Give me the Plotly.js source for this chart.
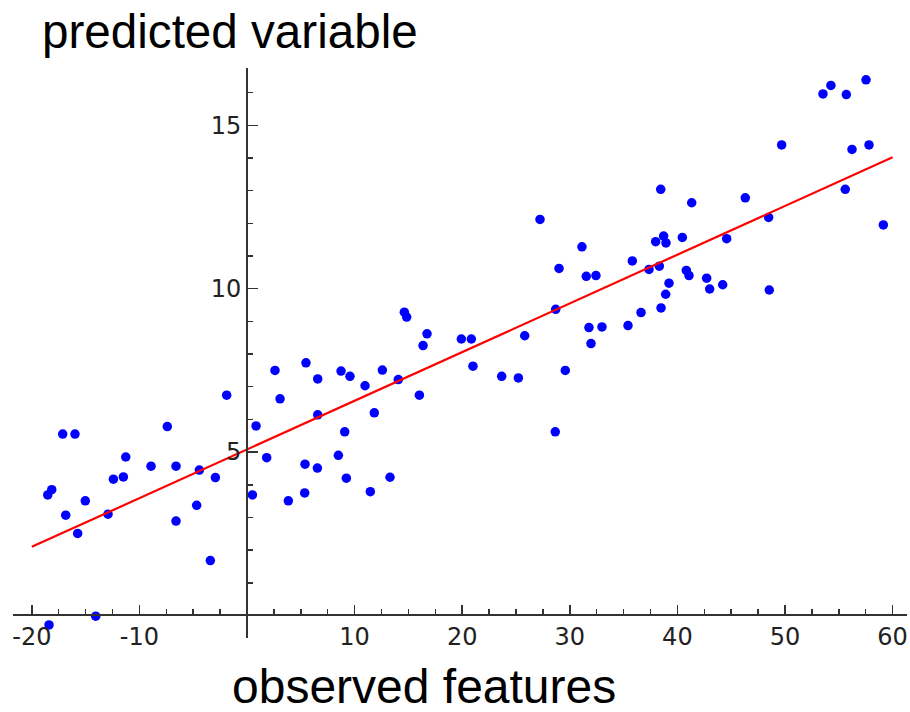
<!DOCTYPE html>
<html>
<head>
<meta charset="utf-8">
<script src="https://cdn.plot.ly/plotly-3.0.1.min.js"></script>
<style>
html,body{margin:0;padding:0;background:#fff;}
#chart{width:910px;height:712px;}
</style>
</head>
<body>
<div id="chart"></div>
<script>
// observed features (x) and predicted variable (y)
const obsX = [
  -18.40, -18.52, -18.15, -17.13, -16.85, -15.99, -15.74, -15.03, -14.06, -12.92,
  -12.42, -11.49, -11.27, -8.92, -7.41, -6.60, -6.60, -4.68, -4.43, -3.41,
  -2.94, -1.89, 0.50, 0.84, 1.83, 2.60, 3.07, 3.84, 5.36, 5.39,
  5.48, 6.54, 6.57, 6.57, 8.49, 8.74, 9.08, 9.23, 9.57, 10.97,
  11.46, 11.83, 12.58, 13.29, 14.06, 14.62, 14.84, 16.02, 16.36, 16.73,
  19.92, 20.85, 21.00, 23.67, 25.22, 25.81, 27.23, 28.65, 28.69, 29.00,
  29.58, 31.13, 31.53, 31.78, 31.97, 32.43, 32.99, 35.41, 35.81, 36.62,
  37.36, 37.98, 38.32, 38.45, 38.48, 38.72, 38.91, 38.94, 39.22, 40.46,
  40.83, 41.08, 41.33, 42.72, 43.00, 44.21, 44.58, 46.31, 48.48, 48.54,
  49.69, 53.53, 54.27, 55.60, 55.70, 56.23, 57.53, 57.81, 59.14
];
const obsY = [
  -0.29, 3.69, 3.85, 5.55, 3.07, 5.55, 2.51, 3.51, -0.02, 3.10,
  4.17, 4.24, 4.85, 4.57, 5.78, 4.57, 2.89, 3.37, 4.45, 1.68,
  4.22, 6.74, 3.69, 5.80, 4.83, 7.50, 6.63, 3.51, 3.75, 4.63,
  7.73, 4.51, 7.24, 6.14, 4.90, 7.48, 5.62, 4.20, 7.32, 7.03,
  3.79, 6.20, 7.51, 4.23, 7.22, 9.28, 9.13, 6.74, 8.26, 8.62,
  8.46, 8.46, 7.63, 7.32, 7.27, 8.56, 12.12, 5.62, 9.37, 10.62,
  7.50, 11.28, 10.38, 8.81, 8.32, 10.40, 8.83, 8.87, 10.85, 9.27,
  10.59, 11.44, 10.69, 13.04, 9.41, 11.61, 9.83, 11.40, 10.17, 11.57,
  10.56, 10.40, 12.63, 10.32, 9.99, 10.12, 11.53, 12.78, 12.18, 9.96,
  14.40, 15.96, 16.22, 13.04, 15.94, 14.26, 16.39, 14.40, 11.95
];
// fitted regression line end points
const fitX = [-20, 60];
const fitY = [2.10, 14.02];

const xTickVals = [-20, -10, 10, 20, 30, 40, 50, 60];
const xTickText = ['-20', '-10', '10', '20', '30', '40', '50', '60'];
const yTickVals = [5, 10, 15];
const yTickText = ['5', '10', '15'];

const xRange = [-21.75, 61.34];
const yRange = [-0.689, 16.753];

const axisColor = '#333333';
const tickFont = {family: 'DejaVu Sans', size: 24, color: '#222222'};

// minor tick positions (axis decoration only)
const xMinor = [];
for (let v = -20; v <= 60.001; v += 2.5) { if (Math.abs(v % 10) > 1e-6) xMinor.push(v); }
const yMinor = [];
for (let v = 1; v <= 16; v += 1) { if (v % 5 !== 0) yMinor.push(v); }

const xPos = (0 - yRange[0]) / (yRange[1] - yRange[0]);
const yPos = (0 - xRange[0]) / (xRange[1] - xRange[0]);

const traces = [
  {
    x: obsX, y: obsY, type: 'scatter', mode: 'markers',
    marker: {color: '#0000ff', size: 9.5, line: {width: 0}},
    hoverinfo: 'x+y'
  },
  {
    x: fitX, y: fitY, type: 'scatter', mode: 'lines',
    line: {color: '#ff0000', width: 2.2}
  }
];

const layout = {
  width: 910, height: 712,
  margin: {l: 13, r: 3, t: 68, b: 74, pad: 0},
  paper_bgcolor: '#ffffff', plot_bgcolor: '#ffffff',
  showlegend: false,
  title: {
    text: 'predicted variable',
    font: {family: 'Liberation Sans', size: 47.6, color: '#000000'},
    xref: 'container', yref: 'container',
    x: 42 / 910, xanchor: 'left',
    y: 1 - 31 / 712, yanchor: 'middle'
  },
  xaxis: {
    range: xRange,
    anchor: 'free', position: xPos,
    showgrid: false, zeroline: false,
    showline: true, linecolor: axisColor, linewidth: 2,
    tickmode: 'array', tickvals: xTickVals, ticktext: xTickText,
    ticks: 'inside', ticklen: 9, tickwidth: 1.5, tickcolor: axisColor,
    tickfont: tickFont,
    minor: {tickmode: 'array', tickvals: xMinor, ticks: 'inside', ticklen: 5, tickwidth: 1.5, tickcolor: axisColor, showgrid: false}
  },
  yaxis: {
    range: yRange,
    anchor: 'free', position: yPos,
    showgrid: false, zeroline: false,
    showline: true, linecolor: axisColor, linewidth: 2,
    tickmode: 'array', tickvals: yTickVals, ticktext: yTickText,
    ticks: 'inside', ticklen: 10, tickwidth: 1.5, tickcolor: axisColor,
    tickfont: tickFont,
    minor: {tickmode: 'array', tickvals: yMinor, ticks: 'inside', ticklen: 5, tickwidth: 1.5, tickcolor: axisColor, showgrid: false}
  },
  annotations: [{
    text: 'observed features',
    font: {family: 'Liberation Sans', size: 48, color: '#000000'},
    xref: 'paper', yref: 'paper',
    x: (424 - 13) / 894, xanchor: 'center',
    y: (638 - 686) / 570, yanchor: 'middle',
    showarrow: false
  }]
};

Plotly.newPlot('chart', traces, layout, {displayModeBar: false, staticPlot: true});
</script>
</body>
</html>
